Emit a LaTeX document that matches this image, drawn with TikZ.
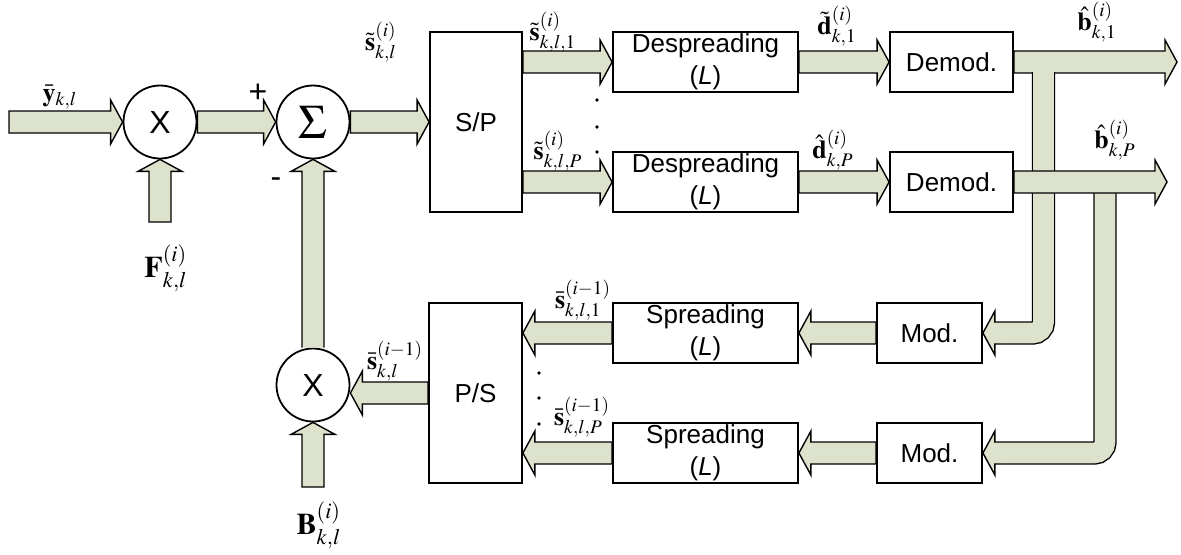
\documentclass[tikz,border=0pt]{standalone}
\usepackage{amsmath}
\usepackage{mathptmx}
\usepackage[no-math]{fontspec}
\setmainfont{Liberation Sans}
\usepackage{tikz}
\usetikzlibrary{calc}
\definecolor{pipe}{RGB}{221,226,204}
\newcommand{\fatw}{5.5pt}
\newcommand{\neckr}{8.14pt}
\newcommand{\necka}{42.51}
\newcommand{\headr}{12.53pt}
\newcommand{\heada}{61.39}
\tikzset{
  blk/.style   ={draw,line width=0.9pt,fill=white,align=center,inner sep=0pt,font=\fontsize{13}{16}\selectfont},
  mix/.style   ={circle,draw,line width=0.9pt,fill=white,minimum size=36.5pt,inner sep=0pt,font=\fontsize{16}{18}\selectfont},
  lab/.style   ={inner sep=0pt,font=\fontsize{13}{15}\selectfont},
  biglab/.style={inner sep=0pt,font=\fontsize{15}{17}\selectfont},
  sgn/.style   ={inner sep=0pt,font=\fontsize{16}{18}\selectfont},
  pipeline/.style={draw=black,line width=0.7pt,fill=pipe,line join=miter},
  fat/.style={pipeline,to path={
    ($(\tikztostart)!\fatw!90:(\tikztotarget)$)
    -- ($(\tikztotarget)!\neckr!-\necka:(\tikztostart)$)
    -- ($(\tikztotarget)!\headr!-\heada:(\tikztostart)$)
    -- (\tikztotarget)
    -- ($(\tikztotarget)!\headr!\heada:(\tikztostart)$)
    -- ($(\tikztotarget)!\neckr!\necka:(\tikztostart)$)
    -- ($(\tikztostart)!\fatw!-90:(\tikztotarget)$) -- cycle}},
  fatopen/.style={pipeline,to path={
    ($(\tikztostart)!\fatw!90:(\tikztotarget)$)
    -- ($(\tikztotarget)!\neckr!-\necka:(\tikztostart)$)
    -- ($(\tikztotarget)!\headr!-\heada:(\tikztostart)$)
    -- (\tikztotarget)
    -- ($(\tikztotarget)!\headr!\heada:(\tikztostart)$)
    -- ($(\tikztotarget)!\neckr!\necka:(\tikztostart)$)
    -- ($(\tikztostart)!\fatw!-90:(\tikztotarget)$)}},
  pipebend/.style={line width=0.7pt,double=pipe,double distance=10.3pt,rounded corners=5.5pt},
}
\begin{document}
\begin{tikzpicture}[x=0.5pt,y=-0.5pt]
  \useasboundingbox (0,0) rectangle (1181,554);
  % forward path
  \node[mix] (m1) at (160,122){X};
  \node[mix,font=\fontsize{24}{26}\selectfont] (sum) at (313,122){$\Sigma$};
  \node[blk,minimum width=46pt,minimum height=90pt] (sp) at (476,122){S/P};
  \node[blk,minimum width=92.5pt,minimum height=30pt] (ds1) at (705.5,62){Despreading\\(\textit{L})};
  \node[blk,minimum width=92.5pt,minimum height=30pt] (ds2) at (705.5,182){Despreading\\(\textit{L})};
  \node[blk,minimum width=61.5pt,minimum height=30pt] (dm1) at (951.5,62){Demod.};
  \node[blk,minimum width=61.5pt,minimum height=30pt] (dm2) at (951.5,182){Demod.};
  % feedback path
  \node[blk,minimum width=52.5pt,minimum height=30pt] (md1) at (929.5,333){Mod.};
  \node[blk,minimum width=52.5pt,minimum height=30pt] (md2) at (929.5,453){Mod.};
  \node[blk,minimum width=92.5pt,minimum height=30pt] (spr1) at (705.5,333){Spreading\\(\textit{L})};
  \node[blk,minimum width=92.5pt,minimum height=30pt] (spr2) at (705.5,453){Spreading\\(\textit{L})};
  \node[blk,minimum width=46.5pt,minimum height=90pt] (ps) at (475.5,393){P/S};
  \node[mix] (m2) at (313,385){X};

  \coordinate (yin) at (9,122);
  \coordinate (fin) at (160,222);
  \coordinate (bin) at (313,487);
  \coordinate (bout1) at (1177,62);
  \coordinate (bout2) at (1167,182);
  \coordinate (br1) at (1043.5,72);
  \coordinate (br1h) at (1000,333);
  \coordinate (br2) at (1105,186);
  \coordinate (br2h) at (1000,453);

  \draw[fat] (yin) to (m1.west);
  \draw[fat] (fin) to (m1.south);
  \draw[fat] (m1.east) to (sum.west);
  \draw[fat] (sum.east) to (sp.west);
  \draw[fat] (sp.east |- ds1.west) to (ds1.west);
  \draw[fat] (sp.east |- ds2.west) to (ds2.west);
  \draw[fat] (ds1.east) to (dm1.west);
  \draw[fat] (ds2.east) to (dm2.west);
  \draw[fat] (dm1.east) to (bout1);
  \draw[pipebend] (br1) |- (br1h);
  \draw[fatopen] (br1h) to (md1.east);
  \draw[pipebend] (br2) |- (br2h);
  \draw[fatopen] (br2h) to (md2.east);
  \draw[fat] (dm2.east) to (bout2);
  \draw[fat] (md1.west) to (spr1.east);
  \draw[fat] (md2.west) to (spr2.east);
  \draw[fat] (spr1.west) to (ps.east |- spr1.west);
  \draw[fat] (spr2.west) to (ps.east |- spr2.west);
  \draw[fat] (ps.west) to (m2.east |- ps.west);
  \draw[fat] (bin) to (m2.south);
  \draw[fatopen] (m2.north) to (sum.south);

  % labels
  \node[lab] (ly) at (60,97){$\bar{\mathbf{y}}_{k,l}$};
  \node[biglab] (lf) at (166,268){$\mathbf{F}_{k,l}^{(i)}$};
  \node[sgn] (lplus) at (258,93){+};
  \node[sgn] (lminus) at (276,183){-};
  \node[lab] (ls) at (381,42){$\tilde{\mathbf{s}}_{k,l}^{(i)}$};
  \node[lab] (ls1) at (553,32){$\tilde{\mathbf{s}}_{k,l,1}^{(i)}$};
  \node[lab] (lsp) at (558,151){$\tilde{\mathbf{s}}_{k,l,P}^{(i)}$};
  \node[lab] (ld1) at (837,26){$\tilde{\mathbf{d}}_{k,1}^{(i)}$};
  \node[lab] (ldp) at (833,150){$\hat{\mathbf{d}}_{k,P}^{(i)}$};
  \node[lab] (lb1) at (1097,22){$\hat{\mathbf{b}}_{k,1}^{(i)}$};
  \node[lab] (lbp) at (1115,140){$\hat{\mathbf{b}}_{k,P}^{(i)}$};
  \node[lab] (lq1) at (583,300){$\bar{\mathbf{s}}_{k,l,1}^{(i-1)}$};
  \node[lab] (lqp) at (582,417){$\bar{\mathbf{s}}_{k,l,P}^{(i-1)}$};
  \node[lab] (lq) at (395,361){$\bar{\mathbf{s}}_{k,l}^{(i-1)}$};
  \node[biglab] (lb) at (319,525){$\mathbf{B}_{k,l}^{(i)}$};
  \foreach \yy in {100,127,152} \fill (597,\yy) circle (0.9pt);
  \foreach \yy in {373,398,424} \fill (539,\yy) circle (0.9pt);
\end{tikzpicture}
\end{document}
